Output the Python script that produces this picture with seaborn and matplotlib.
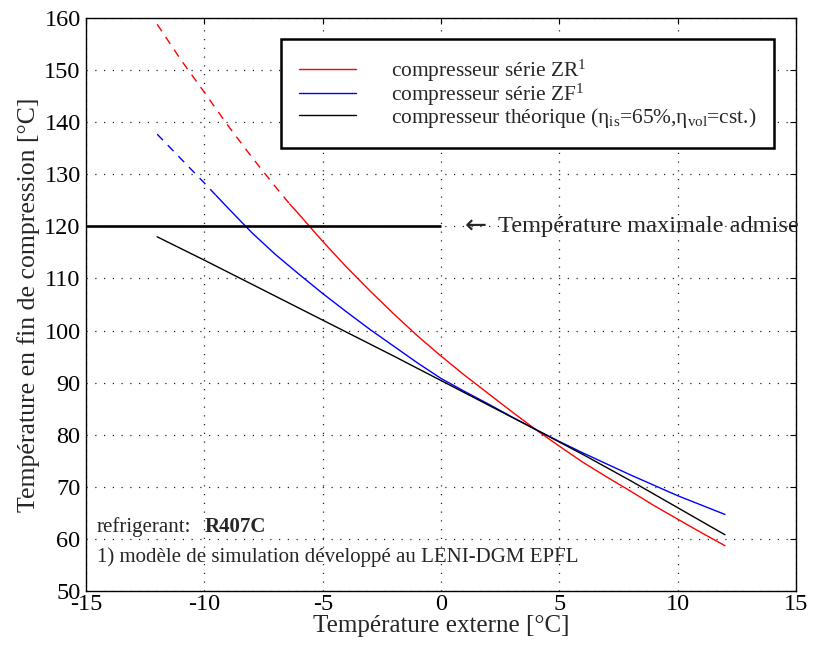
# Température en fin de compression vs température externe (R407C)

import numpy as np
import matplotlib
matplotlib.use("Agg")
import matplotlib.pyplot as plt
import seaborn as sns

# Data
# compresseur série ZR (red), dashed up to x = -6.4
zr_x = [-12, -11, -10, -9, -8, -7, -6.4, -6, -5, -4, -3, -2, -1, 0,
        1, 2, 3, 4, 5, 6, 7, 8, 9, 10, 11, 12]
zr_y = [158.8, 152.0, 145.7, 139.3, 133.3, 127.6, 124.3, 122.3, 117.1, 112.2, 107.6, 103.2, 99.0, 95.1,
        91.4, 87.9, 84.4, 81.0, 77.8, 74.7, 71.9, 69.2, 66.4, 63.8, 61.2, 58.7]
zr_dash_until = -6.4

# compresseur série ZF (blue), dashed up to x = -9.5
zf_x = [-12, -11, -10, -9.5, -9, -8, -7, -6, -5, -4, -3, -2, -1, 0,
        1, 2, 3, 4, 5, 6, 7, 8, 9, 10, 11, 12]
zf_y = [137.7, 133.0, 128.3, 125.9, 123.5, 118.8, 114.6, 110.8, 107.1, 103.6, 100.2, 97.0, 93.8, 90.8,
        88.3, 85.9, 83.4, 81.0, 78.7, 76.5, 74.4, 72.3, 70.3, 68.3, 66.5, 64.7]
zf_dash_until = -9.5

# compresseur théorique (black)
th_x = [-12, -10, -8, -6, -4, -2, 0, 2, 4, 6, 8, 10, 12]
th_y = [118.0, 113.5, 108.9, 104.3, 99.7, 95.1, 90.4, 85.7, 81.0, 76.2, 71.2, 66.0, 60.8]

# maximum allowed temperature
t_max = 120
t_max_xrange = [-15, 0]

xticks = [-15, -10, -5, 0, 5, 10, 15]
yticks = [50, 60, 70, 80, 90, 100, 110, 120, 130, 140, 150, 160]

sns.set_style("white")
plt.rcParams['font.family'] = ['Liberation Serif', 'DejaVu Serif']
plt.rcParams['mathtext.fontset'] = 'custom'
plt.rcParams['mathtext.rm'] = 'Liberation Serif'
plt.rcParams['mathtext.it'] = 'Liberation Serif:italic'
plt.rcParams['axes.unicode_minus'] = False

fig = plt.figure(figsize=(8.13, 6.55), dpi=100)
ax = fig.add_axes([0.106, 0.0977, 0.873, 0.8748])

dash = (0, (6, 5))


def draw(xs, ys, color, dash_until=None, label=None):
    xs = np.array(xs)
    ys = np.array(ys)
    if dash_until is not None:
        m = xs <= dash_until
        sns.lineplot(x=xs[m], y=ys[m], ax=ax, color=color, lw=1.0,
                     linestyle=dash, sort=False)
        m2 = xs >= dash_until
        xs, ys = xs[m2], ys[m2]
    sns.lineplot(x=xs, y=ys, ax=ax, color=color, lw=1.0, sort=False, label=label)


draw(zr_x, zr_y, 'red', zr_dash_until, label=r'compresseur série ZR$^{1}$')
draw(zf_x, zf_y, 'blue', zf_dash_until, label=r'compresseur série ZF$^{1}$')
draw(th_x, th_y, 'black', None,
     label=r'compresseur théorique ($\mathrm{\eta_{is}}$=65%,$\mathrm{\eta_{vol}}$=cst.)')

ax.hlines(t_max, t_max_xrange[0], t_max_xrange[1], color='black', lw=1.9)
ax.text(1.0, t_max, '←', fontsize=19, va='center', ha='left',
        family=['DejaVu Sans'])
ax.text(2.4, t_max, 'Température maximale admise', fontsize=17.6,
        va='center', ha='left')

ax.set_xlim(-15, 15)
ax.set_ylim(50, 160)
ax.set_xticks(xticks)
ax.set_yticks(yticks)
ax.set_xticklabels([str(v) for v in xticks], family='Liberation Serif')
ax.set_yticklabels([str(v) for v in yticks], family='Liberation Serif')
ax.tick_params(direction='in', top=True, right=True, length=4, width=0.8,
               labelsize=17.5, colors='black')
ax.tick_params(axis='x', pad=2)
ax.tick_params(axis='y', pad=4)
ax.grid(True, color='0.15', linestyle=(0, (1, 6)), lw=0.9)
for s in ax.spines.values():
    s.set_color('black')
    s.set_linewidth(1.0)

ax.set_xlabel('Température externe [°C]', fontsize=18, labelpad=0)
ax.set_ylabel('Température en fin de compression [°C]', fontsize=18.5, labelpad=3)

ax.text(0.015, 0.112, 'refrigerant:', transform=ax.transAxes, fontsize=15,
        va='center', ha='left')
ax.text(0.167, 0.112, 'R407C', transform=ax.transAxes, fontsize=15,
        va='center', ha='left', fontweight='bold')
ax.text(0.015, 0.059, '1) modèle de simulation développé au LENI-DGM EPFL',
        transform=ax.transAxes, fontsize=15, va='center', ha='left')

leg = ax.legend(loc='upper left', bbox_to_anchor=(0.274, 0.963), borderaxespad=0,
                fontsize=15.4, handlelength=2.65, handletextpad=1.65,
                labelspacing=-0.1, borderpad=0.85, fancybox=False,
                frameon=True, edgecolor='black', framealpha=1)
leg.get_frame().set_linewidth(1.8)

fig.savefig('out.png', dpi=100)
